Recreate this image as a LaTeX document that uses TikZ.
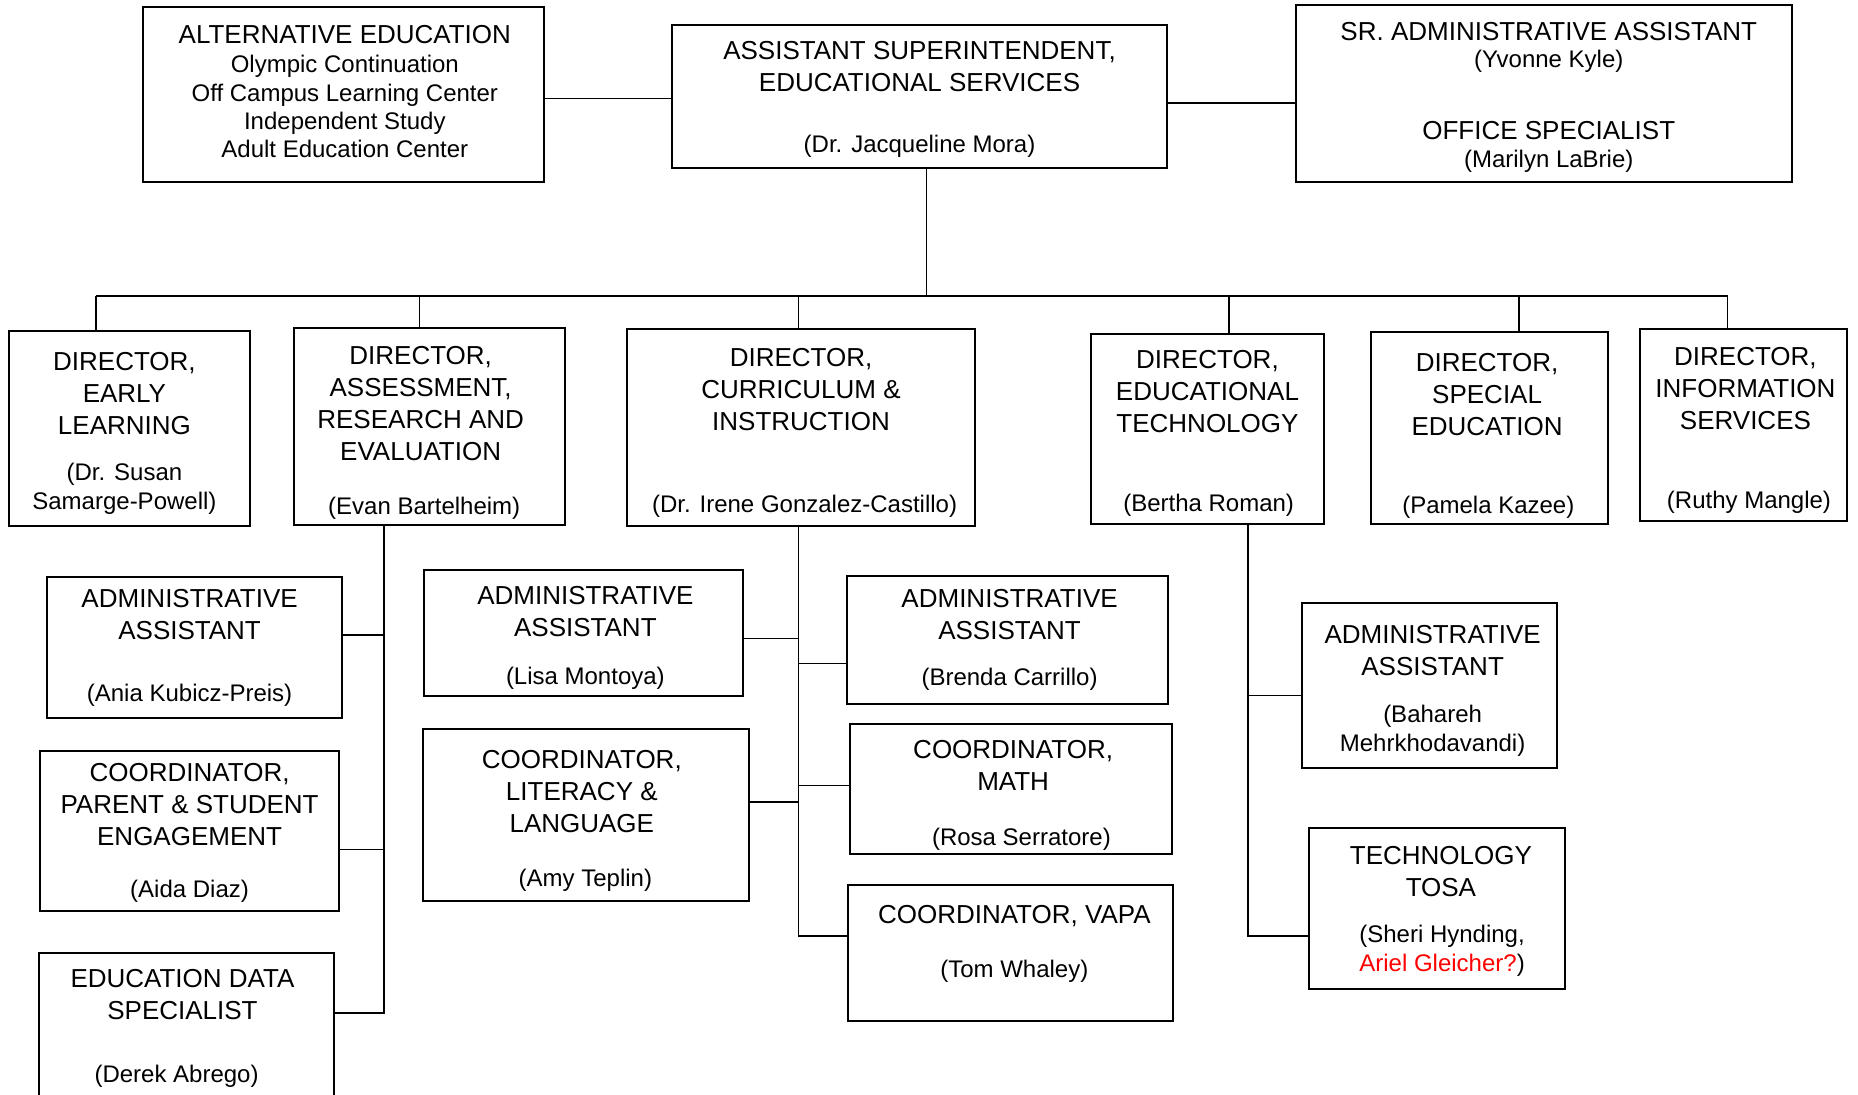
\documentclass[tikz,border=0pt]{standalone}
\usepackage{fontspec}
\setmainfont{Liberation Sans}
\usetikzlibrary{fit}
\definecolor{alertred}{RGB}{255,0,0}
\tikzset{
  box/.style={draw=black, line width=1pt, inner sep=0pt},
  conn/.style={draw=black, line width=0.8pt},
  ttl/.style={font=\fontsize{13}{16}\selectfont, align=center, anchor=north, inner sep=0pt, yshift=11.2pt},
  nm/.style={font=\fontsize{12}{14.5}\selectfont, align=center, anchor=north, inner sep=0pt, yshift=10.15pt},
  subl/.style={font=\fontsize{12}{14.2}\selectfont, align=center, anchor=north, inner sep=0pt, yshift=9.94pt},
}
\begin{document}
\begin{tikzpicture}[x=0.5925pt, y=-0.5925pt]
\fill[white] (0,0) rectangle (1568,924);
\useasboundingbox (0,0) rectangle (1568,924);

% boxes
\node[box, fit={(121,6) (459,154)}] (alt) {};
\node[box, fit={(567,21) (985,142)}] (supt) {};
\node[box, fit={(1094,4) (1512,154)}] (sr) {};
\node[box, fit={(8,279) (211,444)}] (d1) {};
\node[box, fit={(248,277) (477,443)}] (d2) {};
\node[box, fit={(529,278) (823,444)}] (d3) {};
\node[box, fit={(921,282) (1117,442)}] (d4) {};
\node[box, fit={(1157,280) (1357,442)}] (d5) {};
\node[box, fit={(1384,278) (1559,440)}] (d6) {};
\node[box, fit={(40,487) (289,606)}] (ania) {};
\node[box, fit={(34,634) (286,769)}] (parent) {};
\node[box, fit={(33,804) (282,940)}] (edata) {};
\node[box, fit={(358,481) (627,587)}] (lisa) {};
\node[box, fit={(357,615) (632,760)}] (lit) {};
\node[box, fit={(715,486) (986,594)}] (brenda) {};
\node[box, fit={(717,611) (989,721)}] (math) {};
\node[box, fit={(716,747) (990,862)}] (vapa) {};
\node[box, fit={(1099,509) (1314,648)}] (bah) {};
\node[box, fit={(1105,699) (1321,835)}] (tosa) {};

% texts
\node[ttl] (altT) at (291,36) {\strut ALTERNATIVE EDUCATION};
\node[subl] (altS) at (291,61) {\strut Olympic Continuation\\Off Campus Learning Center\\Independent Study\\Adult Education Center};
\node[ttl] (suptT) at (776,50) {\strut ASSISTANT SUPERINTENDENT,\\EDUCATIONAL SERVICES};
\node[nm] (suptN) at (776,128) {\strut (Dr. Jacqueline Mora)};
\node[ttl] (srT) at (1307,34) {\strut SR. ADMINISTRATIVE ASSISTANT};
\node[nm] (srN) at (1307,57) {\strut (Yvonne Kyle)};
\node[ttl] (srT2) at (1307,117) {\strut OFFICE SPECIALIST};
\node[nm] (srN2) at (1307,141) {\strut (Marilyn LaBrie)};
\node[ttl] (d1T) at (105,312) {\strut DIRECTOR,\\EARLY\\LEARNING};
\node[nm] (d1N) at (105,405) {\strut (Dr. Susan\\Samarge-Powell)};
\node[ttl] (d2T) at (355,307) {\strut DIRECTOR,\\ASSESSMENT,\\RESEARCH AND\\EVALUATION};
\node[nm] (d2N) at (358,434) {\strut (Evan Bartelheim)};
\node[ttl] (d3T) at (676,309) {\strut DIRECTOR,\\CURRICULUM \&\\INSTRUCTION};
\node[nm] (d3N) at (679,432) {\strut (Dr. Irene Gonzalez-Castillo)};
\node[ttl] (d4T) at (1019,311) {\strut DIRECTOR,\\EDUCATIONAL\\TECHNOLOGY};
\node[nm] (d4N) at (1020,431) {\strut (Bertha Roman)};
\node[ttl] (d5T) at (1255,313) {\strut DIRECTOR,\\SPECIAL\\EDUCATION};
\node[nm] (d5N) at (1256,433) {\strut (Pamela Kazee)};
\node[ttl] (d6T) at (1473,308) {\strut DIRECTOR,\\INFORMATION\\SERVICES};
\node[nm] (d6N) at (1476,429) {\strut (Ruthy Mangle)};
\node[ttl] (aniaT) at (160,512) {\strut ADMINISTRATIVE\\ASSISTANT};
\node[nm] (aniaN) at (160,592) {\strut (Ania Kubicz-Preis)};
\node[ttl] (parentT) at (160,659) {\strut COORDINATOR,\\PARENT \& STUDENT\\ENGAGEMENT};
\node[nm] (parentN) at (160,757) {\strut (Aida Diaz)};
\node[ttl] (edataT) at (154,833) {\strut EDUCATION DATA\\SPECIALIST};
\node[nm] (edataN) at (149,913) {\strut (Derek Abrego)};
\node[ttl] (lisaT) at (494,510) {\strut ADMINISTRATIVE\\ASSISTANT};
\node[nm] (lisaN) at (494,577) {\strut (Lisa Montoya)};
\node[ttl] (litT) at (491,648) {\strut COORDINATOR,\\LITERACY \&\\LANGUAGE};
\node[nm] (litN) at (494,748) {\strut (Amy Teplin)};
\node[ttl] (brendaT) at (852,512) {\strut ADMINISTRATIVE\\ASSISTANT};
\node[nm] (brendaN) at (852,578) {\strut (Brenda Carrillo)};
\node[ttl] (mathT) at (855,640) {\strut COORDINATOR,\\MATH};
\node[nm] (mathN) at (862,713) {\strut (Rosa Serratore)};
\node[ttl] (vapaT) at (856,779) {\strut COORDINATOR, VAPA};
\node[nm] (vapaN) at (856,825) {\strut (Tom Whaley)};
\node[ttl] (bahT) at (1209,543) {\strut ADMINISTRATIVE\\ASSISTANT};
\node[nm] (bahN) at (1209,609) {\strut (Bahareh\\Mehrkhodavandi)};
\node[ttl] (tosaT) at (1216,729) {\strut TECHNOLOGY\\TOSA};
\node[nm] (tosaN) at (1217,795) {\strut (Sheri Hynding,\\\textcolor{alertred}{Ariel Gleicher?})};

% connectors
\coordinate (j1) at (513,83);
\coordinate (j2) at (1040,87);
\draw[conn] (alt.east |- j1) -- (supt.west |- j1);
\draw[conn] (supt.east |- j2) -- (sr.west |- j2);
\coordinate (bus) at (782,250);
\coordinate (b1) at (81,250);
\coordinate (b2) at (354,250);
\coordinate (b3) at (674,250);
\coordinate (b4) at (1037,250);
\coordinate (b5) at (1282,250);
\coordinate (b6) at (1458,250);
\draw[conn] (supt.south -| bus) -- (bus);
\draw[conn] (b1) -- (b6);
\draw[conn] (b1) -- (b1 |- d1.north);
\draw[conn] (b2) -- (b2 |- d2.north);
\draw[conn] (b3) -- (b3 |- d3.north);
\draw[conn] (b4) -- (b4 |- d4.north);
\draw[conn] (b5) -- (b5 |- d5.north);
\draw[conn] (b6) -- (b6 |- d6.north);

\coordinate (s2a) at (324,536);
\coordinate (s2b) at (324,717);
\coordinate (s2c) at (324,855);
\draw[conn] (d2.south -| s2c) -- (s2c) -- (s2c -| edata.east);
\draw[conn] (s2a) -- (s2a -| ania.east);
\draw[conn] (s2b) -- (s2b -| parent.east);

\coordinate (s3a) at (674,539);
\coordinate (s3b) at (674,677);
\coordinate (s3c) at (674,560);
\coordinate (s3d) at (674,663);
\coordinate (s3e) at (674,790);
\draw[conn] (d3.south -| s3e) -- (s3e) -- (s3e -| vapa.west);
\draw[conn] (s3a) -- (s3a -| lisa.east);
\draw[conn] (s3b) -- (s3b -| lit.east);
\draw[conn] (s3c) -- (s3c -| brenda.west);
\draw[conn] (s3d) -- (s3d -| math.west);

\coordinate (s4a) at (1053,587);
\coordinate (s4b) at (1053,790);
\draw[conn] (d4.south -| s4b) -- (s4b) -- (s4b -| tosa.west);
\draw[conn] (s4a) -- (s4a -| bah.west);
\end{tikzpicture}
\end{document}
